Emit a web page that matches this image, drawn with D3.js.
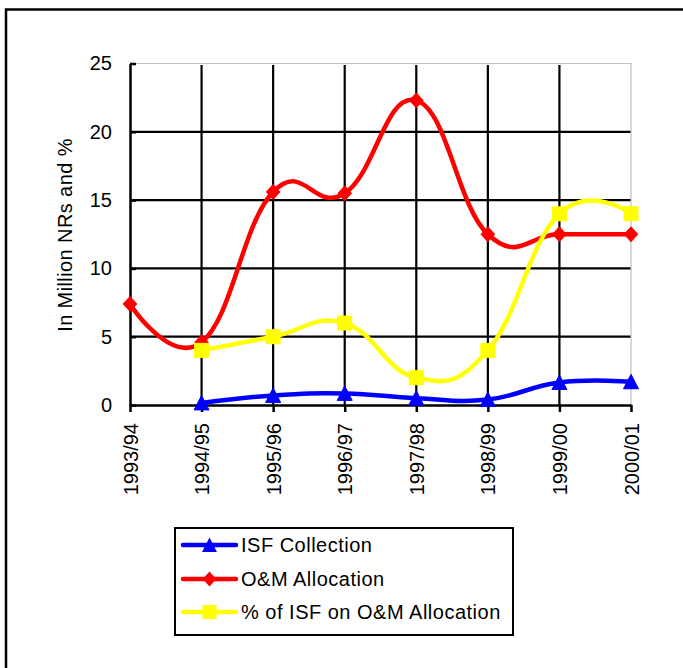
<!DOCTYPE html>
<html>
<head>
<meta charset="utf-8">
<script src="https://cdn.jsdelivr.net/npm/d3@7"></script>
<style>
  html, body { margin: 0; padding: 0; background: #ffffff; }
  svg { display: block; font-family: "Liberation Sans", Arial, sans-serif; }
</style>
</head>
<body>
<svg id="chart" width="683" height="668"></svg>
<script>
// ---- data ----
const categories = ["1993/94", "1994/95", "1995/96", "1996/97", "1997/98", "1998/99", "1999/00", "2000/01"];
const isfCollection = [null, 0.15, 0.7, 0.85, 0.5, 0.4, 1.65, 1.7];
const omAllocation = [7.4, 4.6, 15.6, 15.5, 22.3, 12.5, 12.5, 12.5];
const isfPercent = [null, 4.0, 5.0, 6.0, 2.0, 4.0, 14.0, 14.0];
const yTicks = [0, 5, 10, 15, 20, 25];
const seriesNames = ["ISF Collection", "O&M Allocation", "% of ISF on O&M Allocation"];
const yTitle = "In Million NRs and %";

const series = [
  { name: seriesNames[0], values: isfCollection, color: "#0000ff", marker: "triangle" },
  { name: seriesNames[1], values: omAllocation, color: "#ff0000", marker: "diamond" },
  { name: seriesNames[2], values: isfPercent, color: "#ffff00", marker: "square" }
];

const svg = d3.select("#chart");
svg.append("rect").attr("width", 683).attr("height", 668).attr("fill", "#fff");

// outer frame (extends beyond right/bottom edge)
svg.append("rect")
  .attr("x", 6).attr("y", 9.5).attr("width", 720).attr("height", 720)
  .attr("fill", "none").attr("stroke", "#000").attr("stroke-width", 2.5);

const x = d3.scalePoint().domain(categories).range([130, 631]);
const y = d3.scaleLinear().domain([0, 25]).range([405, 63.5]);

// gridlines
const g = svg.append("g");
g.selectAll("line.hgrid").data(yTicks.filter(v => v > 0 && v < 25)).join("line")
  .attr("x1", x.range()[0]).attr("x2", x.range()[1])
  .attr("y1", d => y(d)).attr("y2", d => y(d))
  .attr("stroke", "#000").attr("stroke-width", 2.2);
g.selectAll("line.vgrid").data(categories.slice(1, -1)).join("line")
  .attr("x1", d => x(d)).attr("x2", d => x(d))
  .attr("y1", y(25) + 1.5).attr("y2", y(0))
  .attr("stroke", "#000").attr("stroke-width", 2.2);
// plot area border (gray top + right)
g.append("path")
  .attr("d", `M${x.range()[0]},${y(25)}H${x.range()[1]}V${y(0)}`)
  .attr("fill", "none").attr("stroke", "#c0c0c0").attr("stroke-width", 1.2);

// axes
const yAxis = svg.append("g").attr("transform", `translate(${x.range()[0]},0)`)
  .call(d3.axisLeft(y).tickValues(yTicks).tickSizeInner(-6).tickSizeOuter(0).tickPadding(18));
yAxis.select(".domain").attr("stroke", "#000").attr("stroke-width", 2.5);
yAxis.selectAll(".tick line").attr("stroke", "#000").attr("stroke-width", 2.5);
yAxis.selectAll(".tick text").attr("font-size", 20).attr("fill", "#000")
  .attr("font-family", "'Liberation Sans', Arial, sans-serif");

const xAxis = svg.append("g").attr("transform", `translate(0,${y(0)})`)
  .call(d3.axisBottom(x).tickSizeInner(7).tickSizeOuter(0));
xAxis.select(".domain").attr("stroke", "#000").attr("stroke-width", 2.5);
xAxis.selectAll(".tick line").attr("stroke", "#000").attr("stroke-width", 2.5);
xAxis.selectAll(".tick text")
  .attr("font-size", 20).attr("fill", "#000")
  .attr("font-family", "'Liberation Sans', Arial, sans-serif")
  .attr("transform", "rotate(-90)")
  .attr("text-anchor", "end")
  .attr("x", -18).attr("y", 0).attr("dy", "0.35em");

// y title
svg.append("text")
  .attr("transform", "translate(72,235) rotate(-90)")
  .attr("text-anchor", "middle")
  .attr("font-size", 20).attr("letter-spacing", "0.4px").attr("fill", "#000")
  .text(yTitle);

// markers
function markerPath(type) {
  if (type === "triangle") return "M0,-7.5L7.5,7L-7.5,7Z";
  if (type === "diamond") return "M0,-7.5L6.8,0L0,7.5L-6.8,0Z";
  return "M-7,-7H7V7H-7Z";
}

const line = d3.line()
  .x(d => x(d.cat)).y(d => y(d.v))
  .curve(d3.curveCardinal.tension(-0.3));

const plot = svg.append("g");
series.forEach(s => {
  const pts = categories.map((c, i) => ({ cat: c, v: s.values[i] })).filter(d => d.v !== null);
  const sg = plot.append("g");
  sg.append("path").datum(pts)
    .attr("d", line)
    .attr("fill", "none").attr("stroke", s.color)
    .attr("stroke-width", 4.5).attr("stroke-linejoin", "round").attr("stroke-linecap", "round");
  sg.selectAll("path.mk").data(pts).join("path")
    .attr("class", "mk")
    .attr("transform", d => `translate(${x(d.cat)},${y(d.v)})`)
    .attr("d", markerPath(s.marker))
    .attr("fill", s.color).attr("stroke", s.color).attr("stroke-width", 1);
});

// legend
const lg = svg.append("g");
lg.append("rect").attr("x", 175).attr("y", 528).attr("width", 338).attr("height", 107)
  .attr("fill", "#fff").attr("stroke", "#000").attr("stroke-width", 2);
const rowY = [545, 579, 612];
series.forEach((s, i) => {
  const row = lg.append("g").attr("transform", `translate(0,${rowY[i]})`);
  row.append("line").attr("x1", 183).attr("x2", 236).attr("y1", 0).attr("y2", 0)
    .attr("stroke", s.color).attr("stroke-width", 4.5).attr("stroke-linecap", "round");
  row.append("path").attr("transform", "translate(209.5,0)")
    .attr("d", markerPath(s.marker)).attr("fill", s.color);
  row.append("text").attr("x", 241).attr("y", 0).attr("dy", "0.36em")
    .attr("font-size", 20).attr("letter-spacing", "0.5px").attr("fill", "#000").text(s.name);
});
</script>
</body>
</html>
